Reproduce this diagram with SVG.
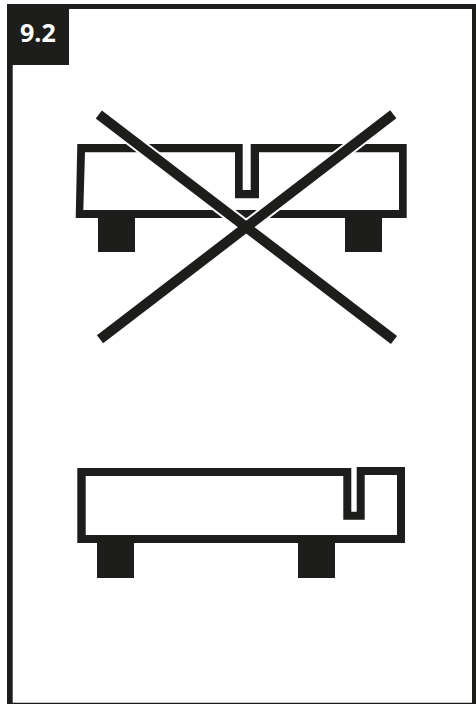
<svg xmlns="http://www.w3.org/2000/svg" width="476" height="704" viewBox="0 0 476 704">
<style>
.k{fill:#1d1d1b}
.h{stroke:#fff;stroke-width:14;fill:none}
.x{stroke:#1d1d1b;stroke-width:10.2;fill:none}
text{font-family:"Open Sans","Noto Sans","Liberation Sans",sans-serif;font-weight:700;font-size:25px;fill:#fff}
</style>
<rect width="476" height="704" fill="#fff"/>
<path class="k" fill-rule="evenodd" d="M7 4H476V704H7ZM12.7 9V702.7H472V9Z"/>
<g id="badge"><rect class="k" x="7" y="4" width="62" height="61"/><text x="20" y="42">9.2</text></g>
<g id="top-item">
<path class="k" d="M77.3 144H250.7V190H242.7V144H250.7V144H406.7V218H75.7ZM85 152.3L83.3 210H399V152.3H259V198.3H235V152.3Z" fill-rule="evenodd"/>
<rect class="k" x="98" y="218" width="37" height="34"/>
<rect class="k" x="345" y="218" width="37" height="34"/>
</g>
<g id="cross">
<path class="h" d="M98.8 114.5L394 340M393.3 114.3L100 339.3"/>
<path class="x" d="M98.8 114.5L394 340M393.3 114.3L100 339.3"/>
</g>
<g id="bottom-item">
<path class="k" fill-rule="evenodd" d="M77.3 468H351.3V511.7H356.7V467H405V543H77.3ZM85.7 476V535H397V475H364.7V519.7H343.3V476Z"/>
<rect class="k" x="97" y="543" width="37" height="35"/>
<rect class="k" x="298" y="543" width="37" height="35"/>
</g>
</svg>
